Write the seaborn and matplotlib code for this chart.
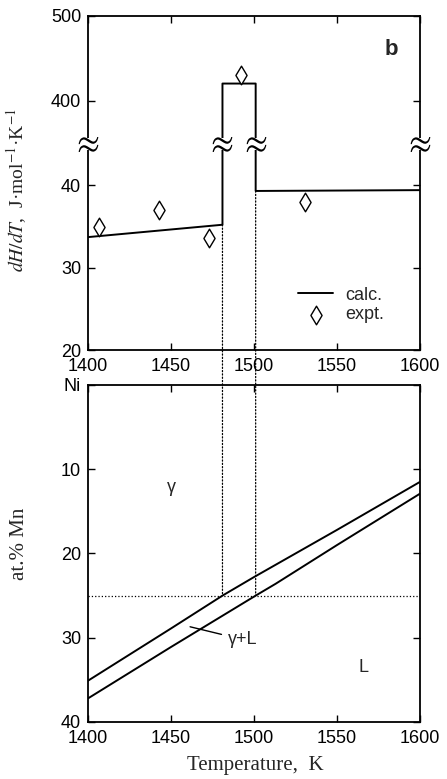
"""
Heat capacity jump at melting (top) and the Ni-Mn liquidus/solidus (bottom).
"""

import matplotlib
matplotlib.use("Agg")
import matplotlib.pyplot as plt
import numpy as np
import seaborn as sns
from matplotlib.patches import ConnectionPatch

# calculated dH/dT, with the melting peak between solidus and liquidus
CALC_T = [1400, 1481, 1481, 1501, 1501, 1600]
CALC_DHDT = [33.7, 35.2, 420.5, 420.5, 39.3, 39.4]

# experimental points
EXPT_T = [1406.5, 1443, 1473, 1492, 1531]
EXPT_DHDT = [34.9, 37.0, 33.6, 431, 37.9]

# phase boundaries, at.% Mn
SOLIDUS_T = [1400, 1450, 1481, 1500, 1550, 1600]
SOLIDUS_MN = [35.1, 28.9, 25.0, 22.8, 17.2, 11.5]
LIQUIDUS_T = [1400, 1450, 1501, 1513, 1550, 1600]
LIQUIDUS_MN = [37.2, 31.1, 25.0, 23.6, 19.0, 12.9]

ALLOY_MN = 25
SOLIDUS_AT = 1481
LIQUIDUS_AT = 1501
BREAK_T = [1400, 1481, 1501, 1600]

T_TICKS = [1400, 1450, 1500, 1550, 1600]
DHDT_TICKS = [20, 30, 40, 400, 500]
MN_TICKS = [0, 10, 20, 30, 40]
MN_LABELS = ["Ni", "10", "20", "30", "40"]

SERIF = ["Liberation Serif", "DejaVu Serif"]


def broken_fwd(v):
    return np.interp(v, [20, 45, 350, 500], [0, 206, 206.5, 334])


def broken_inv(p):
    return np.interp(p, [0, 206, 206.5, 334], [20, 45, 350, 500])


def style_axis(ax):
    ax.tick_params(direction="in", top=True, right=True, length=5,
                   width=1, labelsize=13, colors="black")
    ax.tick_params(axis="x", pad=6)
    ax.tick_params(axis="y", pad=5)
    for s in ax.spines.values():
        s.set_linewidth(1.3)
        s.set_color("black")


sns.set_theme(style="ticks")
plt.rcParams["font.family"] = ["Liberation Sans", "DejaVu Sans"]
plt.rcParams["mathtext.fontset"] = "stix"

fig = plt.figure(figsize=(4.47, 7.79), dpi=100)
ax1 = fig.add_axes([0.1969, 0.5507, 0.7427, 0.4288])
ax2 = fig.add_axes([0.1969, 0.0732, 0.7427, 0.4326])

# --- top panel: dH/dT on a broken axis ---
ax1.set_yscale("function", functions=(broken_fwd, broken_inv))
sns.lineplot(x=CALC_T, y=CALC_DHDT, sort=False, estimator=None,
             color="black", linewidth=1.4, label="calc.", ax=ax1)
sns.scatterplot(x=EXPT_T, y=EXPT_DHDT, marker="d", s=90,
                facecolor="white", edgecolor="black", linewidth=1,
                label="expt.", ax=ax1, zorder=4)
ax1.set_xlim(1400, 1600)
ax1.set_ylim(20, 500)
ax1.set_xticks(T_TICKS)
ax1.set_yticks(DHDT_TICKS)
ax1.set_yticklabels([str(v) for v in DHDT_TICKS])
ax1.yaxis.set_minor_locator(matplotlib.ticker.NullLocator())
ax1.set_xlabel("")
style_axis(ax1)

# axis break marks
box = [(-1, -0.55), (1, -0.55), (1, 0.55), (-1, 0.55), (-1, -0.55)]
ax1.scatter(BREAK_T, [200] * len(BREAK_T), marker=box, s=230,
            color="white", linewidths=0, zorder=5, clip_on=False)
ax1.scatter(BREAK_T, [200] * len(BREAK_T), marker=r"$\approx$", s=200,
            color="black", linewidths=0, zorder=6, clip_on=False)

ax1.set_ylabel(r"$dH/dT$,  J·mol$^{-1}$·K$^{-1}$", family=SERIF, fontsize=14)
ax1.yaxis.set_label_coords(-0.178, 0.48)
ax1.text(0.915, 0.90, "b", transform=ax1.transAxes, fontsize=16,
         fontweight="bold", ha="center", va="center")
ax1.legend(frameon=False, loc="center left", bbox_to_anchor=(0.585, 0.135),
           fontsize=13, handlelength=1.9, handletextpad=0.7,
           labelspacing=0.15)

# --- bottom panel: phase diagram ---
sns.lineplot(x=SOLIDUS_T, y=SOLIDUS_MN, sort=False, estimator=None,
             color="black", linewidth=1.4, ax=ax2)
sns.lineplot(x=LIQUIDUS_T, y=LIQUIDUS_MN, sort=False, estimator=None,
             color="black", linewidth=1.4, ax=ax2)
ax2.axhline(ALLOY_MN, color="black", linestyle=":", linewidth=0.9)
ax2.set_xlim(1400, 1600)
ax2.set_ylim(40, 0)
ax2.set_xticks(T_TICKS)
ax2.set_yticks(MN_TICKS)
ax2.set_yticklabels(MN_LABELS)
style_axis(ax2)

ax2.text(1450.5, 12.2, "γ", fontsize=13, ha="center", va="center")
ax2.text(1566, 33.5, "L", fontsize=13, ha="center", va="center")
ax2.annotate("γ+L", xy=(1461.5, 28.7), xytext=(1484, 30.2), fontsize=13,
             va="center", ha="left",
             arrowprops=dict(arrowstyle="-", color="black", lw=1,
                             shrinkA=2, shrinkB=0))

ax2.set_xlabel("Temperature,  K", family=SERIF, fontsize=15)
ax2.xaxis.set_label_coords(0.503, -0.1)
ax2.set_ylabel("at.% Mn", family=SERIF, fontsize=15)
ax2.yaxis.set_label_coords(-0.178, 0.53)

# dotted guides from the dH/dT steps down to the alloy composition
for t, top in [(SOLIDUS_AT, CALC_DHDT[1]), (LIQUIDUS_AT, CALC_DHDT[4])]:
    con = ConnectionPatch(xyA=(t, top), coordsA=ax1.transData,
                          xyB=(t, ALLOY_MN), coordsB=ax2.transData,
                          color="black", linestyle=":", linewidth=0.9)
    fig.add_artist(con)

fig.savefig("out.png", dpi=100, facecolor="white")
